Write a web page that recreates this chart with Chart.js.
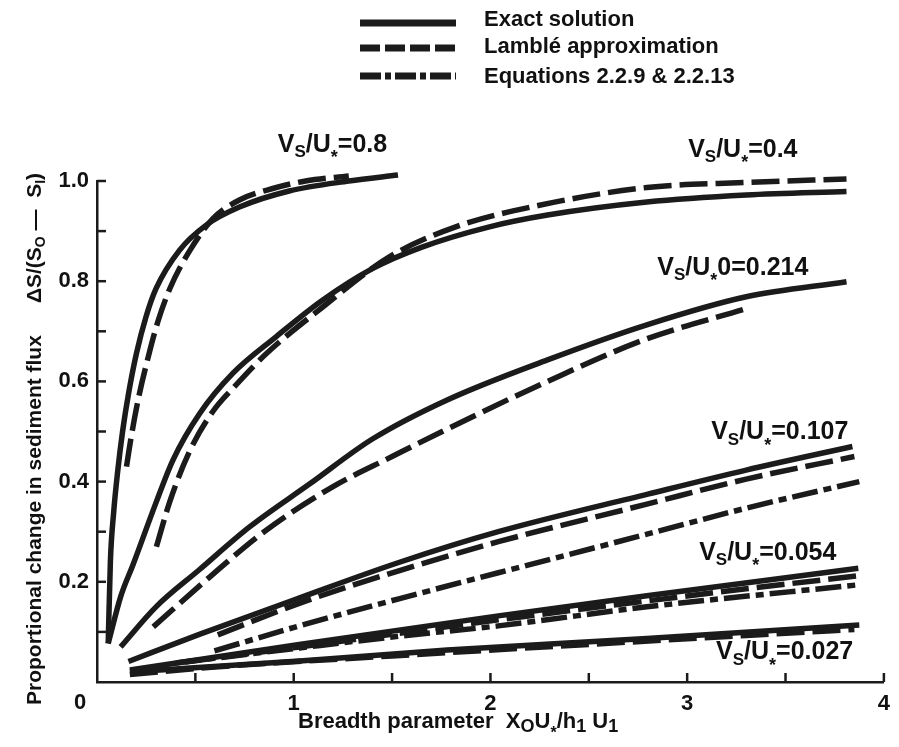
<!DOCTYPE html>
<html>
<head>
<meta charset="utf-8">
<script src="https://cdn.jsdelivr.net/npm/chart.js@4.4.1/dist/chart.umd.min.js"></script>
<style>
  html, body { margin: 0; padding: 0; background: #fff; }
</style>
</head>
<body>
<canvas id="chart" width="899" height="747"></canvas>
<script>
// values: [breadth parameter, proportional change]
const vs08Exact = [[0.057,0.077],[0.068,0.24],[0.085,0.34],[0.105,0.42],[0.13,0.5],[0.16,0.575],[0.20,0.655],[0.25,0.73],[0.30,0.785],[0.42,0.862],[0.555,0.912],[0.724,0.948],[0.977,0.98],[1.28,1.0],[1.53,1.012]];
const vs08Lamble = [[0.15,0.43],[0.17,0.48],[0.21,0.565],[0.26,0.648],[0.31,0.72],[0.37,0.785],[0.47,0.86],[0.589,0.925],[0.724,0.962],[0.893,0.985],[1.06,1.0],[1.28,1.01]];

const vs04Exact = [[0.057,0.077],[0.12,0.17],[0.184,0.235],[0.302,0.36],[0.386,0.443],[0.522,0.536],[0.69,0.616],[0.91,0.689],[1.146,0.762],[1.40,0.825],[1.652,0.868],[1.99,0.908],[2.29,0.932],[2.795,0.958],[3.30,0.972],[3.81,0.979]];
const vs04Lamble = [[0.302,0.27],[0.37,0.36],[0.47,0.46],[0.589,0.54],[0.70,0.59],[0.86,0.655],[1.146,0.748],[1.484,0.848],[1.82,0.908],[2.243,0.951],[2.795,0.987],[3.30,0.997],[3.81,1.004]];

const vs0214Exact = [[0.12,0.07],[0.30,0.15],[0.52,0.224],[0.777,0.31],[1.08,0.395],[1.40,0.485],[1.78,0.563],[2.29,0.643],[2.795,0.713],[3.30,0.769],[3.81,0.799]];
const vs0214Lamble = [[0.286,0.11],[0.574,0.21],[0.86,0.303],[1.2,0.39],[1.5,0.45],[1.78,0.505],[2.29,0.60],[2.795,0.685],[3.30,0.745]];

const vs0107Exact = [[0.16,0.041],[0.52,0.095],[1.03,0.168],[1.53,0.238],[2.04,0.30],[2.8,0.375],[3.3,0.423],[3.84,0.47]];
const vs0107Lamble = [[0.614,0.094],[1.028,0.157],[1.534,0.222],[2.04,0.28],[2.795,0.355],[3.30,0.405],[3.85,0.45]];
const vs0107Eq = [[0.597,0.062],[1.028,0.112],[1.534,0.166],[2.04,0.218],[2.795,0.295],[3.30,0.347],[3.875,0.40]];

const vs0054Exact = [[0.167,0.024],[1.028,0.075],[2.04,0.132],[2.795,0.172],[3.87,0.227]];
const vs0054Lamble = [[0.45,0.04],[1.03,0.07],[2.04,0.124],[2.8,0.162],[3.3,0.186],[3.87,0.212]];
const vs0054Eq = [[0.40,0.038],[1.03,0.068],[1.55,0.092],[2.04,0.112],[2.795,0.15],[3.87,0.194]];

const vs0027Exact = [[0.167,0.02],[1.03,0.042],[1.78,0.064],[2.795,0.087],[3.875,0.114]];
const vs0027Lamble = [[0.167,0.015],[0.6,0.03],[1.5,0.052],[2.5,0.075],[3.3,0.093],[3.85,0.105]];

const methodNames = ["Exact solution", "Lamblé approximation", "Equations 2.2.9 & 2.2.13"];

const FONT = '"Liberation Sans", Arial, Helvetica, sans-serif';
const INK = "#1b1b1b";
const dashes = { exact: [], lamble: [28, 8], eq: [26, 6, 8, 6] };
const legendDashes = { exact: [], lamble: [20, 5], eq: [21, 4, 6, 4] };

const curves = [
  [vs08Exact, "exact"], [vs08Lamble, "lamble"],
  [vs04Exact, "exact"], [vs04Lamble, "lamble"],
  [vs0214Exact, "exact"], [vs0214Lamble, "lamble"],
  [vs0107Exact, "exact"], [vs0107Lamble, "lamble"], [vs0107Eq, "eq"],
  [vs0054Lamble, "lamble"], [vs0054Eq, "eq"], [vs0054Exact, "exact"],
  [vs0027Lamble, "lamble"], [vs0027Exact, "exact"],
];

// curve labels: tail text, left x, cap centre y (data units)
const curveLabels = [
  ["=0.8", 0.919, 1.076],
  ["=0.4", 3.005, 1.066],
  ["0=0.214", 2.848, 0.831],
  ["=0.107", 3.122, 0.502],
  ["=0.054", 3.061, 0.262],
  ["=0.027", 3.147, 0.063],
];

function partFont(kind, size) {
  const k = kind === "s" ? 0.68 : kind === "a" ? 0.72 : kind === "d" ? 0.8 : 1;
  return `bold ${Math.round(size * k)}px ${FONT}`;
}

function drawRich(ctx, parts, x, yc, size) {
  const base = yc + size * 0.36;
  let cx = x;
  ctx.textAlign = "left";
  ctx.textBaseline = "alphabetic";
  for (const [s, kind] of parts) {
    ctx.font = partFont(kind, size);
    let dy = 0;
    if (kind === "s") dy = size * 0.22;
    if (kind === "d") dy = size * 0.2;
    if (kind === "a") dy = size * 0.45;
    ctx.fillText(s, cx, base + dy);
    cx += ctx.measureText(s).width;
  }
  return cx;
}

const decor = {
  id: "decor",
  afterDraw(chart) {
    const { ctx, chartArea, scales } = chart;
    const x = scales.x, y = scales.y;
    ctx.save();
    ctx.strokeStyle = INK;
    ctx.fillStyle = "#111";
    ctx.lineWidth = 2.5;

    // inward tick marks
    y.ticks.forEach(t => {
      if (t.value <= 0) return;
      const py = y.getPixelForValue(t.value);
      ctx.beginPath();
      ctx.moveTo(chartArea.left, py);
      ctx.lineTo(chartArea.left + 9, py);
      ctx.stroke();
    });
    x.ticks.forEach(t => {
      if (t.value <= 0) return;
      const px = x.getPixelForValue(t.value);
      ctx.beginPath();
      ctx.moveTo(px, chartArea.bottom);
      ctx.lineTo(px, chartArea.bottom - 9);
      ctx.stroke();
    });

    // shared origin label
    ctx.font = `bold 22px ${FONT}`;
    ctx.textAlign = "center";
    ctx.textBaseline = "middle";
    ctx.fillText("0", x.getPixelForValue(0) - 17, y.getPixelForValue(0) + 21);

    // curve labels
    curveLabels.forEach(([tail, lx, ly]) => {
      drawRich(ctx, [["V", ""], ["S", "s"], ["/U", ""], ["*", "a"], [tail, ""]],
        x.getPixelForValue(lx), y.getPixelForValue(ly), 25);
    });

    // legend
    const styles = ["exact", "lamble", "eq"];
    const rowsY = [23, 48, 76];
    const textY = [18, 45, 75];
    styles.forEach((st, i) => {
      ctx.save();
      ctx.lineWidth = 7;
      ctx.lineCap = "butt";
      ctx.setLineDash(legendDashes[st]);
      ctx.beginPath();
      ctx.moveTo(360, rowsY[i]);
      ctx.lineTo(456, rowsY[i]);
      ctx.stroke();
      ctx.restore();
      drawRich(ctx, [[methodNames[i], ""]], 484, textY[i], 22);
    });

    // x axis title
    drawRich(ctx, [["Breadth parameter  X", ""], ["O", "d"], ["U", ""], ["*", "a"], ["/h", ""], ["1", "d"], [" U", ""], ["1", "d"]],
      298, 720, 22);

    // y axis title, rotated
    ctx.save();
    ctx.translate(33, 705);
    ctx.rotate(-Math.PI / 2);
    const end = drawRich(ctx, [["Proportional change in sediment flux", ""]], 0, 0, 21);
    drawRich(ctx, [["ΔS/(S", ""], ["O", "s"], [" —  S", ""], ["I", "s"], [")", ""]], end + 32, 0, 21);
    ctx.restore();

    ctx.restore();
  }
};

const datasets = curves.map(([pts, st]) => ({
  data: pts.map(([px, py]) => ({ x: px, y: py })),
  borderColor: INK,
  borderWidth: 5.5,
  borderDash: dashes[st],
  borderCapStyle: "butt",
  pointRadius: 0,
  showLine: true,
  fill: false,
  cubicInterpolationMode: "monotone",
  clip: false,
}));

new Chart(document.getElementById("chart"), {
  type: "scatter",
  data: { datasets },
  options: {
    responsive: false,
    animation: false,
    layout: { padding: { left: 0, top: 181, right: 14, bottom: 0 } },
    plugins: { legend: { display: false }, tooltip: { enabled: false } },
    scales: {
      x: {
        type: "linear",
        min: 0, max: 4,
        afterFit: s => { s.height = 65; },
        border: { display: true, color: INK, width: 2.5 },
        grid: { drawOnChartArea: false, drawTicks: false },
        ticks: {
          stepSize: 0.5, autoSkip: false, maxRotation: 0, padding: 9,
          color: "#111", font: { family: FONT, size: 22, weight: "bold" },
          callback: v => (Number.isInteger(v) && v !== 0 ? String(v) : ""),
        },
      },
      y: {
        type: "linear",
        min: 0, max: 1,
        afterFit: s => { s.width = 97; },
        border: { display: true, color: INK, width: 2.5 },
        grid: { drawOnChartArea: false, drawTicks: false },
        ticks: {
          stepSize: 0.1, autoSkip: false, padding: 8,
          color: "#111", font: { family: FONT, size: 22, weight: "bold" },
          callback: v => {
            const k = Math.round(v * 10);
            return k > 0 && k % 2 === 0 ? (k / 10).toFixed(1) : "";
          },
        },
      },
    },
  },
  plugins: [decor],
});
</script>
</body>
</html>
